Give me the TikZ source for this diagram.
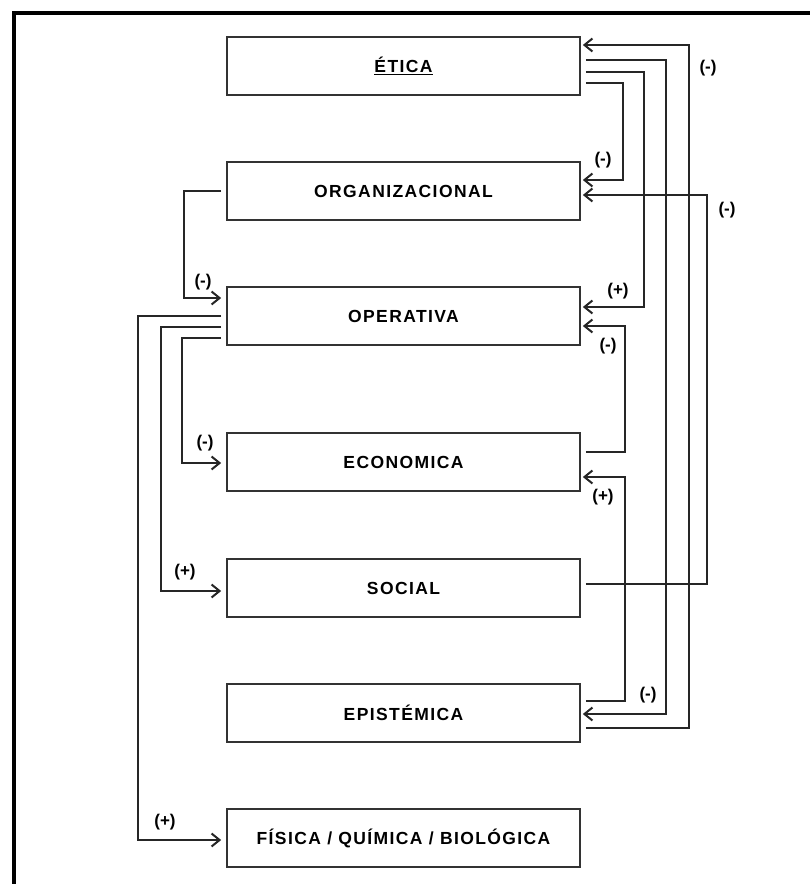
\documentclass[tikz,border=0pt]{standalone}
\usepackage{fontspec}
\setmainfont{Liberation Sans}
\usetikzlibrary{arrows.meta}

\begin{document}
\begin{tikzpicture}[x=1pt,y=-1pt,
    caja/.style={draw=black!80,line width=1.7pt,minimum width=353pt,minimum height=58pt,
      inner sep=0pt,font=\fontsize{17.5}{20}\selectfont\bfseries\addfontfeatures{LetterSpace=8}},
    enlace/.style={draw=black!85,line width=2.3pt,-{Straight Barb[length=8pt,width=13pt,line width=2pt]}},
    signo/.style={font=\fontsize{17}{20}\selectfont\bfseries}]
    \useasboundingbox (0,0) rectangle (810,884);
    \draw[line width=4pt] (13.5,884) -- (13.5,12.5) -- (810,12.5);

    \node[caja] (eti) at (403.5,66)  {\underline{ÉTICA}};
    \node[caja] (org) at (403.5,191) {ORGANIZACIONAL};
    \node[caja] (ope) at (403.5,316) {OPERATIVA};
    \node[caja] (eco) at (403.5,462) {ECONOMICA};
    \node[caja] (soc) at (403.5,588) {SOCIAL};
    \node[caja] (epi) at (403.5,713) {EPISTÉMICA};
    \node[caja] (fis) at (403.5,838) {FÍSICA / QUÍMICA / BIOLÓGICA};

    \draw[enlace] ([xshift=5pt,yshift=-15pt]epi.east) -- ++(103pt,0) |- ([xshift=2pt,yshift=21pt]eti.east);
    \draw[enlace] ([xshift=5pt,yshift=6pt]eti.east) -- ++(80pt,0) |- ([xshift=2pt,yshift=-1pt]epi.east);
    \draw[enlace] ([xshift=5pt,yshift=-6pt]eti.east) -- ++(58pt,0) |- ([xshift=2pt,yshift=9pt]ope.east);
    \draw[enlace] ([xshift=5pt,yshift=-17pt]eti.east) -- ++(37pt,0) |- ([xshift=2pt,yshift=11pt]org.east);
    \draw[enlace] ([xshift=5pt,yshift=4pt]soc.east) -- ++(121pt,0) |- ([xshift=2pt,yshift=-4pt]org.east);
    \draw[enlace] ([xshift=5pt,yshift=10pt]eco.east) -- ++(39pt,0) |- ([xshift=2pt,yshift=-10pt]ope.east);
    \draw[enlace] ([xshift=5pt,yshift=12pt]epi.east) -- ++(39pt,0) |- ([xshift=2pt,yshift=-15pt]eco.east);

    \draw[enlace] ([xshift=-5pt]org.west) -- ++(-37pt,0) |- ([xshift=-5pt,yshift=18pt]ope.west);
    \draw[enlace] ([xshift=-5pt,yshift=-22pt]ope.west) -- ++(-39pt,0) |- ([xshift=-5pt,yshift=-1pt]eco.west);
    \draw[enlace] ([xshift=-5pt,yshift=-11pt]ope.west) -- ++(-60pt,0) |- ([xshift=-5pt,yshift=-3pt]soc.west);
    \draw[enlace] ([xshift=-5pt]ope.west) -- ++(-83pt,0) |- ([xshift=-5pt,yshift=-2pt]fis.west);

    \node[signo] (s1) at (708,68)  {(-)};
    \node[signo] (s2) at (603,160) {(-)};
    \node[signo] (s3) at (727,210) {(-)};
    \node[signo] (s4) at (618,291) {(+)};
    \node[signo] (s5) at (608,346) {(-)};
    \node[signo] (s6) at (603,497) {(+)};
    \node[signo] (s7) at (648,695) {(-)};
    \node[signo] (s8) at (203,282) {(-)};
    \node[signo] (s9) at (205,443) {(-)};
    \node[signo] (s10) at (185,572) {(+)};
    \node[signo] (s11) at (165,822) {(+)};
\end{tikzpicture}
\end{document}
